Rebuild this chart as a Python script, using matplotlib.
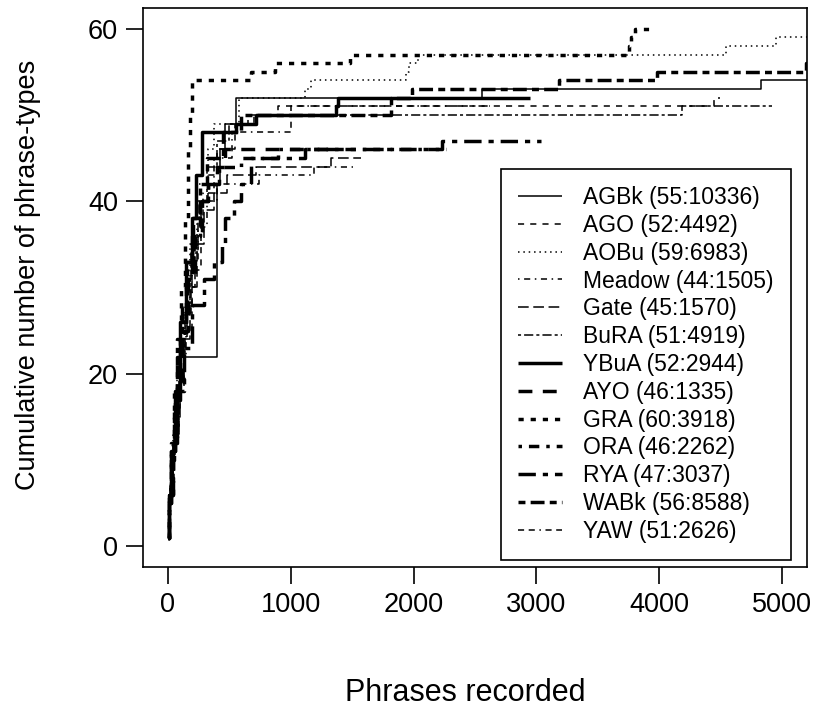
import matplotlib
matplotlib.use('Agg')
import matplotlib.pyplot as plt

plt.rcParams['font.family'] = ['Liberation Sans', 'DejaVu Sans']

# Legend labels: name (final phrase-types : total phrases)
labels = ['AGBk (55:10336)', 'AGO (52:4492)', 'AOBu (59:6983)', 'Meadow (44:1505)',
          'Gate (45:1570)', 'BuRA (51:4919)', 'YBuA (52:2944)', 'AYO (46:1335)',
          'GRA (60:3918)', 'ORA (46:2262)', 'RYA (47:3037)', 'WABk (56:8588)',
          'YAW (51:2626)']

# Step points (phrases recorded, cumulative phrase-types)
agbk_x = [0, 15, 40, 70, 100, 130, 400, 430, 470, 560, 2556, 4827, 6200, 10336]
agbk_y = [1, 6, 11, 15, 19, 22, 42, 46, 49, 52, 53, 54, 55, 55]
ago_x = [0, 20, 50, 90, 140, 200, 270, 330, 400, 550, 700, 900, 4440, 4492]
ago_y = [1, 7, 13, 19, 25, 32, 40, 43, 46, 49, 50, 51, 52, 52]
aobu_x = [0, 15, 40, 80, 130, 180, 240, 330, 375, 580, 1120, 1165, 1940, 1960, 2040, 4540, 4950, 6983]
aobu_y = [1, 6, 13, 20, 28, 35, 42, 46, 49, 52, 53, 54, 55, 56, 57, 58, 59, 59]
meadow_x = [0, 10, 30, 60, 100, 150, 200, 250, 320, 400, 740, 1190, 1505]
meadow_y = [1, 5, 10, 16, 22, 28, 33, 37, 40, 42, 43, 44, 44]
gate_x = [0, 15, 40, 80, 130, 180, 240, 300, 380, 480, 720, 1330, 1570]
gate_y = [1, 6, 12, 18, 24, 30, 35, 39, 41, 43, 44, 45, 45]
bura_x = [0, 20, 50, 90, 140, 190, 250, 320, 400, 500, 650, 4180, 4919]
bura_y = [1, 7, 13, 20, 27, 34, 40, 44, 47, 49, 50, 51, 51]
ybua_x = [0, 10, 30, 60, 100, 150, 200, 230, 280, 555, 715, 1370, 1390, 2944]
ybua_y = [1, 5, 11, 18, 26, 33, 38, 43, 48, 49, 50, 51, 52, 52]
ayo_x = [0, 15, 40, 80, 120, 170, 220, 280, 330, 400, 470, 1335]
ayo_y = [1, 6, 12, 19, 25, 31, 36, 40, 42, 44, 46, 46]
gra_x = [0, 10, 25, 50, 80, 110, 140, 170, 185, 195, 680, 870, 1480, 3750, 3770, 3800, 3918]
gra_y = [1, 6, 12, 18, 24, 30, 38, 46, 50, 54, 55, 56, 57, 58, 59, 60, 60]
ora_x = [0, 10, 30, 60, 100, 150, 200, 260, 330, 420, 600, 900, 2262]
ora_y = [1, 5, 11, 17, 24, 31, 36, 40, 42, 44, 45, 46, 46]
rya_x = [0, 15, 40, 80, 130, 200, 300, 380, 440, 470, 540, 600, 675, 1120, 2230, 3037]
rya_y = [1, 6, 12, 18, 23, 28, 31, 33, 35, 38, 40, 42, 45, 46, 47, 47]
wabk_x = [0, 10, 25, 50, 80, 120, 160, 210, 260, 320, 450, 600, 1820, 1990, 3180, 3980, 5190, 8588]
wabk_y = [1, 5, 10, 16, 22, 28, 33, 38, 42, 45, 48, 50, 52, 53, 54, 55, 56, 56]
yaw_x = [0, 15, 40, 70, 110, 160, 220, 290, 380, 520, 1000, 2626]
yaw_y = [1, 6, 12, 18, 24, 30, 36, 41, 45, 48, 51, 51]

xs = [agbk_x, ago_x, aobu_x, meadow_x, gate_x, bura_x, ybua_x, ayo_x,
      gra_x, ora_x, rya_x, wabk_x, yaw_x]
ys = [agbk_y, ago_y, aobu_y, meadow_y, gate_y, bura_y, ybua_y, ayo_y,
      gra_y, ora_y, rya_y, wabk_y, yaw_y]

# R-like line types: thin for the first six, thick for the next six
thin, thick = 1.1, 2.5
styles = [
    (thin, (0, ())),
    (thin, (0, (4, 4))),
    (thin, (0, (1, 2.5))),
    (thin, (0, (1, 3, 4, 3))),
    (thin, (0, (7, 3))),
    (thin, (0, (2, 2, 6, 2))),
    (thick, (0, ())),
    (thick, (0, (4, 3))),
    (thick, (0, (1.5, 2))),
    (thick, (0, (1, 2, 3, 2))),
    (thick, (0, (5, 2, 1.5, 2))),
    (thick, (0, (2, 1.5, 4, 1.5))),
    (thin, (0, (4, 3, 4, 3, 1, 3))),
]

fig = plt.figure(figsize=(8.19, 7.09), dpi=100)
ax = fig.add_axes([0.1746, 0.2003, 0.8107, 0.7884])

for x, y, lab, (lw, ls) in zip(xs, ys, labels, styles):
    ax.step(x, y, where='post', color='black', linewidth=lw, linestyle=ls,
            label=lab, solid_capstyle='butt', dash_capstyle='butt')

ax.set_xlim(-200, 5200)
ax.set_ylim(-2.4, 62.4)
ax.set_xticks([0, 1000, 2000, 3000, 4000, 5000])
ax.set_yticks([0, 20, 40, 60])
ax.tick_params(direction='out', length=12, width=1.2, labelsize=19.5, pad=6)
for s in ax.spines.values():
    s.set_linewidth(1.2)

ax.set_xlabel('Phrases recorded', fontsize=22)
ax.set_ylabel('Cumulative number of phrase-types', fontsize=19.5)
ax.xaxis.set_label_coords(0.485, -0.199)
ax.yaxis.set_label_coords(-0.154, 0.522)

leg = ax.legend(loc='lower right', bbox_to_anchor=(0.976, 0.0125), fontsize=16.5,
                frameon=True, fancybox=False, edgecolor='black', framealpha=1,
                handlelength=1.9, handletextpad=0.95, labelspacing=0.21,
                borderpad=0.75, borderaxespad=0)
leg.get_frame().set_linewidth(1.2)

plt.savefig('out.png', dpi=100)
